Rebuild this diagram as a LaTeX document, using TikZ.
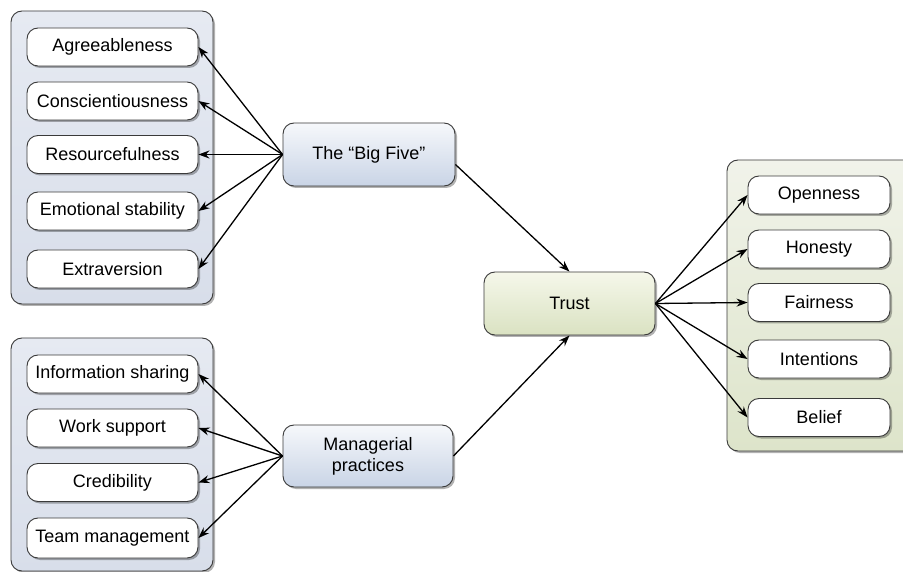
\documentclass[tikz,border=0pt]{standalone}
\usepackage{fontspec}
\setmainfont{Liberation Sans}
\usetikzlibrary{shadows,arrows.meta,calc}
\definecolor{edge}{HTML}{3A3A3A}
\definecolor{grpblueT}{HTML}{E6EAF2}
\definecolor{grpblueB}{HTML}{D8DEEA}
\definecolor{grpgreenT}{HTML}{F1F3EA}
\definecolor{grpgreenB}{HTML}{DDE4CA}
\definecolor{keyblueT}{HTML}{F6F8FB}
\definecolor{keyblueB}{HTML}{C9D4E6}
\definecolor{keygreenT}{HTML}{F5F7EA}
\definecolor{keygreenB}{HTML}{DAE2C2}
\tikzset{
  txt/.style={font=\fontsize{18}{21}\selectfont, text=black},
  shade/.style={drop shadow={shadow xshift=2pt, shadow yshift=-2pt, fill=black, opacity=0.3}},
  group/.style={draw=edge, line width=0.9pt, rounded corners=11pt, shade, inner sep=0pt},
  bluegroup/.style={group, top color=grpblueT, bottom color=grpblueB},
  greengroup/.style={group, top color=grpgreenT, bottom color=grpgreenB},
  itembox/.style={txt, draw=edge, line width=0.9pt, rounded corners=11pt, fill=white, shade,
    minimum height=38pt, inner sep=0pt},
  leftitem/.style={itembox, minimum width=171pt},
  rightitem/.style={itembox, minimum width=142pt},
  keybox/.style={txt, draw=edge, line width=0.9pt, rounded corners=11pt, shade,
    minimum height=63pt, minimum width=172pt, inner sep=0pt, align=center},
  bluekey/.style={keybox, top color=keyblueT, bottom color=keyblueB},
  greenkey/.style={keybox, top color=keygreenT, bottom color=keygreenB},
  link/.style={draw=black, line width=1.3pt, -{Stealth[length=11pt, width=8pt]}}
}
\begin{document}
\begin{tikzpicture}[x=1pt, y=-1pt]
\clip (0,0) rectangle (903,572);
\fill[white] (0,0) rectangle (903,572);

% group containers
\node[bluegroup, minimum width=202pt, minimum height=293pt] (g1) at (112,157.5) {};
\node[bluegroup, minimum width=202pt, minimum height=233pt] (g2) at (112,454.5) {};
\node[greengroup, minimum width=190pt, minimum height=291pt] (g3) at (822,305.5) {};

% personality traits
\node[leftitem] (agr) at (112.5,47)  {Agreeableness};
\node[leftitem] (con) at (112.5,101) {Conscientiousness};
\node[leftitem] (res) at (112.5,154.5) {Resourcefulness};
\node[leftitem] (emo) at (112.5,211) {Emotional stability};
\node[leftitem] (ext) at (112.5,269) {Extraversion};

% managerial practices
\node[leftitem] (inf) at (112.5,374) {Information sharing};
\node[leftitem] (wrk) at (112.5,428) {Work support};
\node[leftitem] (cre) at (112.5,482.5) {Credibility};
\node[leftitem, minimum height=40pt] (team) at (112.5,538) {Team management};

% trust dimensions
\node[rightitem] (opn) at (819,195) {Openness};
\node[rightitem] (hon) at (819,249) {Honesty};
\node[rightitem] (fai) at (819,302.5) {Fairness};
\node[rightitem] (int) at (819,359) {Intentions};
\node[rightitem] (bel) at (819,417.5) {Belief};

% key concepts
\node[bluekey] (bf) at (369,154.5) {The “Big Five”};
\node[bluekey, minimum width=170pt, minimum height=62pt] (mp) at (368,456) {Managerial\\practices};
\node[greenkey, minimum width=171pt] (tr) at (569.5,303.5) {Trust};

% connectors
\foreach \t in {agr,con,res,emo,ext} \draw[link] (bf.west) -- (\t.east);
\foreach \t in {inf,wrk,cre,team} \draw[link] (mp.west) -- (\t.east);
\draw[link] ($(bf.east)+(0,10)$) -- (tr.north);
\draw[link] (mp.east) -- (tr.south);
\foreach \t in {opn,hon,fai,int,bel} \draw[link] (tr.east) -- (\t.west);
\end{tikzpicture}
\end{document}
